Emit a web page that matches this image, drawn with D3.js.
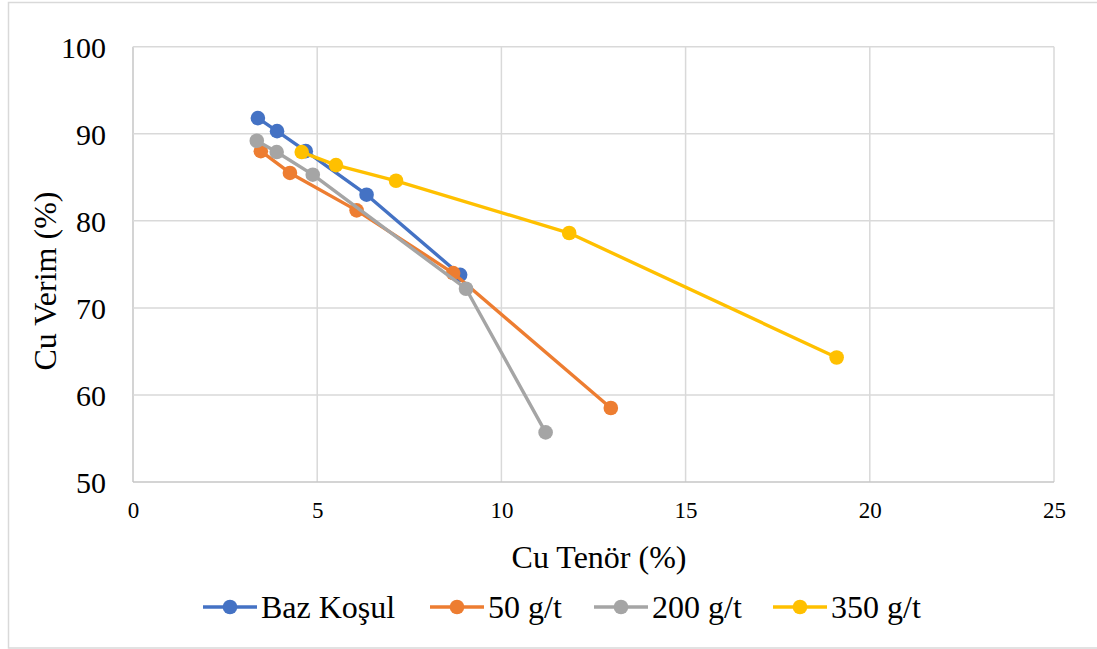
<!DOCTYPE html>
<html>
<head>
<meta charset="utf-8">
<script src="https://cdn.jsdelivr.net/npm/d3@7"></script>
<style>
  html, body { margin: 0; padding: 0; background: #fff; }
  svg { display: block; }
  svg text { font-family: "Liberation Serif", "Times New Roman", serif !important; fill: #000; }
</style>
</head>
<body>
<svg id="chart" width="1097" height="649" font-family="Liberation Serif, serif"></svg>
<script>
// Flotation results: Cu grade (x) vs Cu recovery (y) for each collector dosage
const seriesNames = ["Baz Koşul", "50 g/t", "200 g/t", "350 g/t"];
const seriesColors = ["#4472C4", "#ED7D31", "#A5A5A5", "#FFC000"];

const bazTenor  = [3.39, 3.91, 4.69, 6.34, 8.88];
const bazVerim  = [91.8, 90.3, 88.0, 83.0, 73.8];

const g50Tenor  = [3.47, 4.26, 6.07, 8.69, 12.97];
const g50Verim  = [88.0, 85.5, 81.2, 74.0, 58.5];

const g200Tenor = [3.36, 3.90, 4.88, 9.04, 11.20];
const g200Verim = [89.2, 87.9, 85.3, 72.2, 55.7];

const g350Tenor = [4.58, 5.51, 7.14, 11.84, 19.10];
const g350Verim = [87.9, 86.4, 84.6, 78.6, 64.3];

const xTicks = [0, 5, 10, 15, 20, 25];
const yTicks = [50, 60, 70, 80, 90, 100];

const tenorArrays = [bazTenor, g50Tenor, g200Tenor, g350Tenor];
const verimArrays = [bazVerim, g50Verim, g200Verim, g350Verim];
const series = seriesNames.map((name, i) => ({
  name,
  color: seriesColors[i],
  points: tenorArrays[i].map((x, j) => ({ x, y: verimArrays[i][j] }))
}));

const SERIF = "Liberation Serif, Times New Roman, serif";
const svg = d3.select("#chart");

// outer chart frame
svg.append("rect")
  .attr("x", 8.5).attr("y", 2.5)
  .attr("width", 1100).attr("height", 645.5)
  .attr("fill", "none").attr("stroke", "#D9D9D9").attr("stroke-width", 1.5);

const plot = { left: 133, top: 46.7, right: 1054, bottom: 482 };

const x = d3.scaleLinear().domain([0, 25]).range([plot.left, plot.right]);
const y = d3.scaleLinear().domain([50, 100]).range([plot.bottom, plot.top]);

// gridlines
const grid = svg.append("g");
grid.selectAll("line.v").data(xTicks).join("line")
  .attr("x1", d => x(d)).attr("x2", d => x(d))
  .attr("y1", plot.top).attr("y2", plot.bottom)
  .attr("stroke", d => d === 0 ? "#C6C6C6" : "#D9D9D9").attr("stroke-width", 1.5);
grid.selectAll("line.h").data(yTicks).join("line")
  .attr("y1", d => y(d)).attr("y2", d => y(d))
  .attr("x1", plot.left).attr("x2", plot.right)
  .attr("stroke", d => d === 50 ? "#C6C6C6" : "#D9D9D9").attr("stroke-width", 1.5);

// axes (tick labels only)
const xAxis = d3.axisBottom(x).tickValues(xTicks).tickSize(0).tickPadding(0).tickFormat(d3.format("d"));
const gx = svg.append("g").attr("transform", `translate(0,${plot.bottom})`).call(xAxis)
  .attr("font-family", SERIF).attr("font-size", 23);
gx.select(".domain").remove();
gx.selectAll("text")
  .attr("y", 36).attr("dy", null)
  .attr("font-family", SERIF).attr("fill", "#000");

const yAxis = d3.axisLeft(y).tickValues(yTicks).tickSize(0).tickPadding(0).tickFormat(d3.format("d"));
const gy = svg.append("g").attr("transform", `translate(${plot.left},0)`).call(yAxis)
  .attr("font-family", SERIF).attr("font-size", 30);
gy.select(".domain").remove();
gy.selectAll("text")
  .attr("x", -27).attr("dy", "0.35em")
  .attr("font-family", SERIF).attr("fill", "#000");

// axis titles
svg.append("text")
  .attr("x", 599).attr("y", 568)
  .attr("text-anchor", "middle").attr("font-family", SERIF).attr("font-size", 32)
  .text("Cu Tenör (%)");
svg.append("text")
  .attr("transform", `translate(56,281) rotate(-90)`)
  .attr("text-anchor", "middle").attr("font-family", SERIF).attr("font-size", 32)
  .text("Cu Verim (%)");

// series lines and markers
const line = d3.line().x(d => x(d.x)).y(d => y(d.y));
const sg = svg.append("g").selectAll("g").data(series).join("g");
sg.append("path")
  .attr("d", d => line(d.points))
  .attr("fill", "none").attr("stroke", d => d.color)
  .attr("stroke-width", 3.4).attr("stroke-linejoin", "round");
sg.selectAll("circle").data(d => d.points.map(p => ({ ...p, color: d.color }))).join("circle")
  .attr("cx", d => x(d.x)).attr("cy", d => y(d.y)).attr("r", 7.3)
  .attr("fill", d => d.color);

// legend
const legendX = [203, 430, 594, 773];
const legendY = 607;
const lg = svg.append("g").selectAll("g").data(series).join("g")
  .attr("transform", (d, i) => `translate(${legendX[i]},${legendY})`);
lg.append("line")
  .attr("x1", 0).attr("x2", 54).attr("y1", 0).attr("y2", 0)
  .attr("stroke", d => d.color).attr("stroke-width", 3.4);
lg.append("circle").attr("cx", 27).attr("cy", 0).attr("r", 7.3).attr("fill", d => d.color);
lg.append("text")
  .attr("x", 58).attr("y", 11)
  .attr("font-family", SERIF).attr("font-size", 32)
  .text(d => d.name);
</script>
</body>
</html>
